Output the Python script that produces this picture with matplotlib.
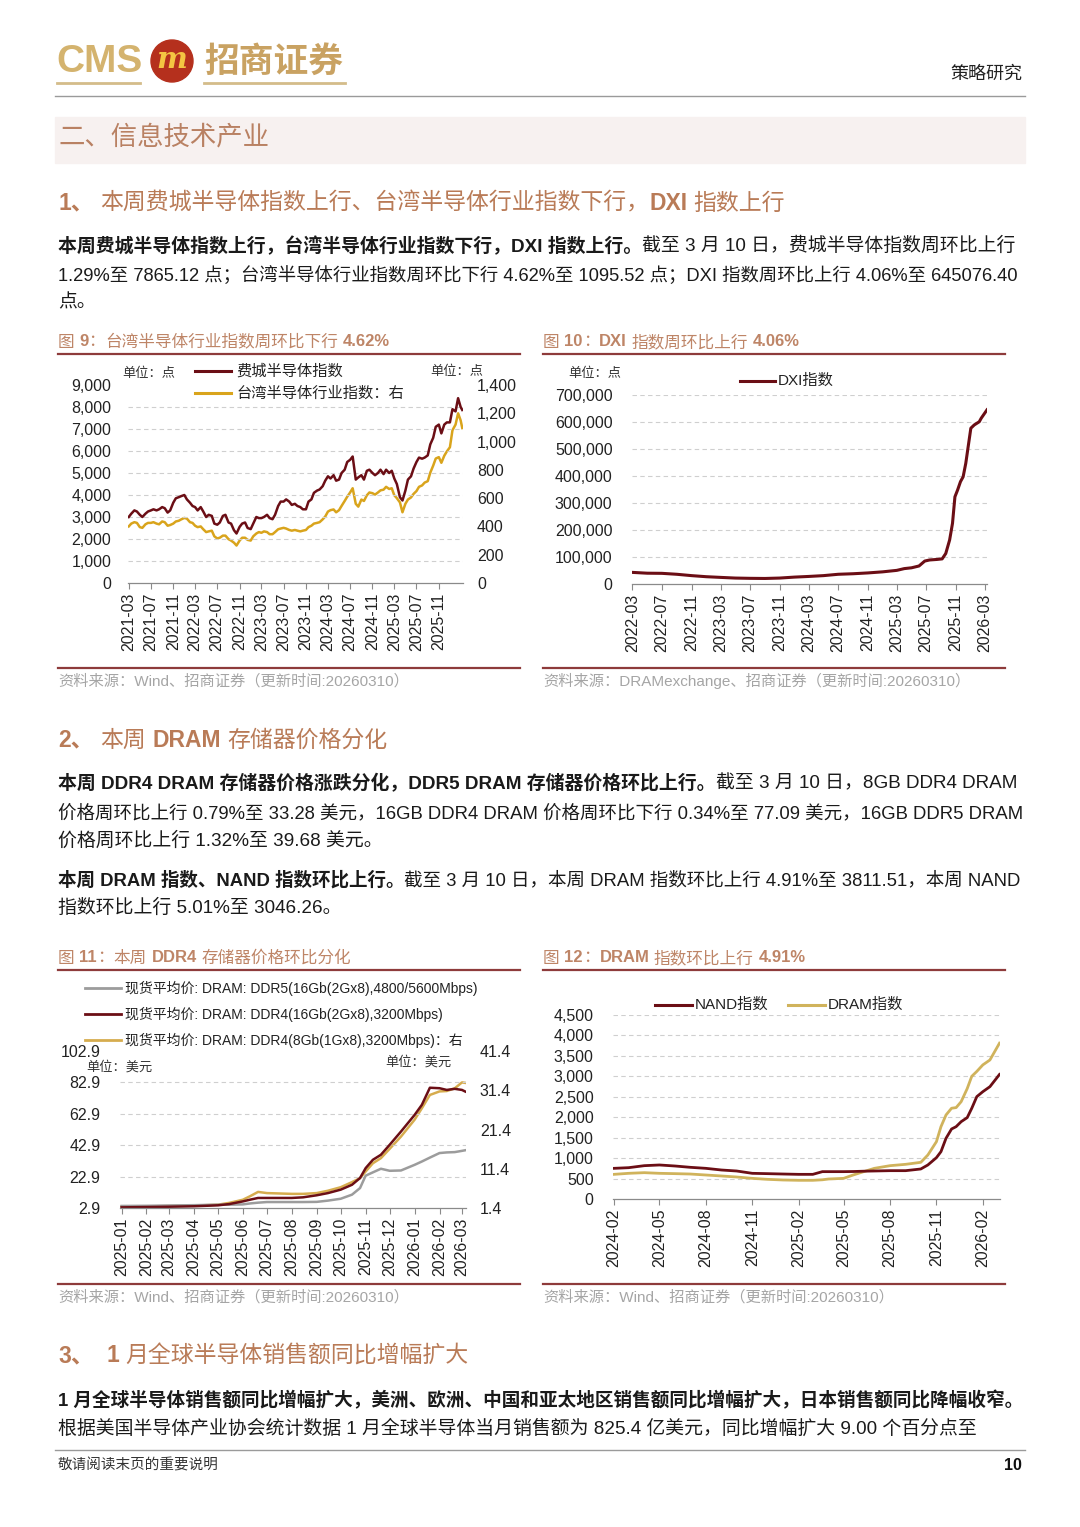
import pandas as pd
import matplotlib
matplotlib.use('Agg')
import matplotlib.pyplot as plt
from matplotlib import font_manager as fm
from matplotlib.patches import Circle, Rectangle
from matplotlib.lines import Line2D
from matplotlib.transforms import IdentityTransform
from matplotlib.ticker import FuncFormatter

W, H = 1080, 1527
names = {f.name for f in fm.fontManager.ttflist}
CJK = 'Noto Sans CJK SC'
LAT = 'Liberation Sans Narrow' if 'Liberation Sans Narrow' in names else 'Liberation Sans'
BODY = [LAT, CJK]
TICK = ['Liberation Sans', CJK]
plt.rcParams['font.family'] = TICK

# ---------------- data ----------------
# 图9: semi-monthly readings 2021-03 .. 2026-03
sox_vals = [
    3000, 3150, 3300, 3250, 3100, 3000, 3150, 3250, 3300, 3350, 3300, 3350,
    3450, 3400, 3200, 3300, 3650, 3850, 3900, 3950, 4000, 3800, 3650, 3500,
    3450, 3300, 3450, 3250, 3000, 3100, 3050, 2700, 2650, 2750, 3050, 3100,
    2750, 2700, 2400, 2250, 2550, 2700, 2750, 2500, 2450, 2700, 3000, 2950,
    2950, 3000, 3100, 2950, 2900, 3100, 3500, 3700, 3700, 3800, 3700, 3550,
    3600, 3500, 3450, 3350, 3350, 3700, 3800, 4100, 4200, 4250, 4400, 4650,
    4850, 4750, 4900, 4650, 4700, 5000, 5150, 5500, 5600, 5750, 4700, 4800,
    4900, 4700, 5100, 5150, 5000, 4900, 5000, 5150, 4950, 5150, 5000, 5100,
    4750, 4500, 3900, 3750, 4200, 4700, 4850, 5200, 5500, 5700, 5650, 5700,
    5800, 6300, 6600, 7100, 7200, 6800, 7200, 7300, 7300, 7900, 7800, 8400,
    8000, 7865.12]
tsi_vals = [
    400, 420, 430, 425, 395, 390, 415, 425, 425, 430, 420, 415,
    435, 430, 405, 410, 420, 435, 440, 450, 460, 455, 430, 425,
    405, 395, 400, 380, 360, 365, 370, 330, 315, 320, 335, 335,
    310, 300, 285, 265, 300, 320, 320, 305, 300, 330, 350, 360,
    355, 365, 360, 345, 345, 360, 380, 385, 390, 385, 375, 370,
    375, 370, 365, 370, 375, 395, 405, 420, 425, 430, 450, 470,
    505, 515, 520, 500, 515, 545, 580, 610, 640, 670, 560, 540,
    590, 580, 620, 640, 635, 625, 640, 655, 660, 680, 665, 670,
    620, 600, 570, 500, 560, 590, 605, 630, 650, 680, 690, 710,
    720, 780, 830, 880, 890, 850, 900, 930, 960, 1080, 1120, 1200,
    1150, 1095.52]
semi_dates = list(pd.date_range('2021-03-01', '2026-03-01', freq='SMS')) + [pd.Timestamp('2026-03-10')]

# 图10
dxi_dates = pd.to_datetime([
    '2022-03-01', '2022-05-01', '2022-07-01', '2022-09-01', '2022-11-01', '2023-01-01',
    '2023-03-01', '2023-05-01', '2023-07-01', '2023-09-01', '2023-11-01', '2024-01-01',
    '2024-03-01', '2024-05-01', '2024-07-01', '2024-09-01', '2024-11-01', '2025-01-01',
    '2025-03-01', '2025-04-01', '2025-05-01', '2025-06-01', '2025-06-25', '2025-07-15',
    '2025-08-15', '2025-09-05', '2025-09-20', '2025-10-06', '2025-10-18', '2025-10-28',
    '2025-11-08', '2025-11-20', '2025-12-01', '2025-12-12', '2025-12-22', '2026-01-02',
    '2026-01-16', '2026-02-06', '2026-02-14', '2026-03-10'])
dxi_vals = [
    43000, 40000, 39500, 36000, 31000, 27000,
    24500, 22000, 21000, 20500, 22000, 25500,
    28000, 31000, 36000, 38000, 41000, 45000,
    50500, 57000, 60000, 66700, 85000, 89000,
    91000, 93000, 113000, 163000, 225000, 323000,
    348000, 379000, 397000, 447000, 509000, 577000,
    589000, 601000, 614000, 645076.40]

# 图11
ddr_dates = pd.to_datetime([
    '2025-01-01', '2025-02-01', '2025-03-01', '2025-04-01', '2025-05-01', '2025-05-15',
    '2025-06-01', '2025-06-10', '2025-06-20', '2025-07-01', '2025-08-01', '2025-08-15',
    '2025-09-01', '2025-09-15', '2025-10-01', '2025-10-15', '2025-10-25', '2025-11-01',
    '2025-11-10', '2025-11-20', '2025-12-01', '2025-12-15', '2026-01-01', '2026-01-10',
    '2026-01-20', '2026-02-01', '2026-02-10', '2026-02-20', '2026-03-01', '2026-03-05'])
ddr5_16g = [4.2, 4.3, 4.5, 4.7, 5.0, 5.0, 5.2, 5.8, 6.3, 6.7, 6.7, 6.7, 6.8, 7.6, 8.8,
            11.4, 15.6, 23.5, 25.6, 27.9, 26.6, 26.8, 30.4, 32.5, 35.0, 37.9, 38.3,
            38.5, 39.3, 39.68]
ddr4_16g = [3.3, 3.5, 3.7, 4.0, 4.6, 5.4, 7.1, 8.2, 9.3, 9.3, 9.3, 9.7, 11.0, 12.4, 14.6,
            17.7, 22.0, 28.3, 33.6, 36.8, 43.2, 51.6, 62.2, 68.6, 79.5, 79.2, 78.1,
            78.8, 78.1, 77.09]
ddr4_8g = [1.8, 1.8, 1.9, 2.0, 2.25, 2.7, 3.5, 4.4, 5.5, 5.2, 5.0, 5.0, 5.2, 5.8, 6.7,
           8.0, 9.0, 10.7, 12.8, 14.1, 16.5, 19.6, 23.9, 26.8, 30.2, 31.1, 31.2,
           31.9, 33.4, 33.28]

# 图12
idx_dates = pd.to_datetime([
    '2024-02-01', '2024-03-01', '2024-04-01', '2024-05-01', '2024-06-01', '2024-07-01',
    '2024-08-01', '2024-09-01', '2024-10-01', '2024-11-01', '2024-12-01', '2025-01-01',
    '2025-02-01', '2025-03-01', '2025-03-20', '2025-04-01', '2025-05-01', '2025-05-20',
    '2025-06-10', '2025-07-01', '2025-08-01', '2025-09-01', '2025-10-01', '2025-10-15',
    '2025-11-01', '2025-11-10', '2025-11-20', '2025-12-01', '2025-12-10', '2025-12-20',
    '2026-01-01', '2026-01-10', '2026-01-20', '2026-02-01', '2026-02-15', '2026-03-06'])
nand_idx = [750, 766, 815, 832, 807, 775, 750, 709, 685, 628, 620, 611,
            603, 603, 669, 669, 669, 672, 680, 685, 693, 693, 734, 832,
            1011, 1158, 1484, 1712, 1769, 1891, 1990, 2218, 2503, 2625, 2747, 3046.26]
dram_idx = [603, 628, 644, 628, 620, 611, 587, 563, 538, 505, 481, 465,
            457, 457, 470, 489, 505, 587, 669, 750, 815, 848, 897, 1076,
            1402, 1769, 2055, 2220, 2235, 2380, 2700, 3000, 3120, 3280, 3400, 3811.51]

MAROON = '#6B0E15'
GOLD9 = '#D9A41C'
GOLD11 = '#D6AC4E'
GOLD12 = '#D0B35C'
GRAY11 = '#9C9C9C'
TITLE_C = '#BE8567'
HEAD_C = '#B97B57'
RULE_C = '#8E3B3B'
GRID_C = '#CFCFCF'

fig = plt.figure(figsize=(W / 100, H / 100), dpi=100)
fig.patch.set_facecolor('white')
R = fig.canvas.get_renderer()


def put(x, y, s, size, color='#1a1a1a', weight='normal', ha='left', va='center', family=None, **kw):
    return fig.text(x / W, 1 - y / H, s, fontsize=size, color=color, fontweight=weight,
                    ha=ha, va=va, family=family or BODY, **kw)


def _draw(x, y, parts, size, color, family):
    sp = size * 0.28 * 100 / 72
    made = []
    for s, b in parts:
        lead = len(s) - len(s.lstrip(' '))
        trail = len(s) - len(s.rstrip(' '))
        x += lead * sp
        core = s.strip(' ')
        if core:
            t = put(x, y, core, size, color=color, weight='bold' if b else 'normal', family=family)
            made.append(t)
            x += t.get_window_extent(renderer=R).width
        x += trail * sp
    return x, made


def rich(x, y, parts, size, color='#1a1a1a', family=None, maxw=None):
    end, made = _draw(x, y, parts, size, color, family)
    if maxw and end - x > maxw:
        for t in made:
            t.remove()
        end, made = _draw(x, y, parts, size * maxw / (end - x), color, family)
    return end


def hline(x0, x1, y, color, lw):
    fig.add_artist(Line2D([x0 / W, x1 / W], [1 - y / H, 1 - y / H], color=color, lw=lw,
                          transform=fig.transFigure))


def make_ax(left, right, top, bottom):
    ax = fig.add_axes([left / W, 1 - bottom / H, (right - left) / W, (bottom - top) / H])
    for k, s in ax.spines.items():
        s.set_visible(k == 'bottom')
    ax.spines['bottom'].set_color('#8a8a8a')
    ax.spines['bottom'].set_linewidth(0.9)
    ax.set_facecolor('none')
    return ax


def style(ax, ylim, yticks, fmt, grid, xlim, xticks, ypad=14):
    ax.set_ylim(*ylim)
    ax.set_yticks(yticks)
    ax.yaxis.set_major_formatter(FuncFormatter(fmt))
    ax.tick_params(axis='y', length=0, pad=ypad, labelsize=11.5, labelcolor='#222222')
    for g in grid:
        ax.axhline(g, color=GRID_C, lw=0.8, ls=(0, (4, 3)), zorder=0)
    ax.set_xlim(*xlim)
    ax.set_xticks(xticks)
    ax.set_xticklabels([d.strftime('%Y-%m') for d in xticks])
    ax.tick_params(axis='x', length=4, width=0.8, color='#8a8a8a', pad=3, labelrotation=90,
                   labelsize=11.5, labelcolor='#222222')


def twin(ax, ylim, yticks, fmt, ypad):
    axr = ax.twinx()
    for s in axr.spines.values():
        s.set_visible(False)
    axr.set_ylim(*ylim)
    axr.set_yticks(yticks)
    axr.yaxis.set_major_formatter(FuncFormatter(fmt))
    axr.tick_params(axis='y', length=0, pad=ypad, labelsize=11.5, labelcolor='#222222')
    return axr


comma = lambda v, p: f'{v:,.0f}'
one = lambda v, p: f'{v:.1f}'

# ---------------- page header ----------------
put(56, 62, 'CMS', 28, color='#D4B36E', weight='bold', family=['Liberation Sans'])
fig.add_artist(Circle((172, H - 61), 21, color='#B5301D', transform=IdentityTransform()))
put(172, 60, 'm', 21, color='#F4C542', weight='bold', ha='center', family=['DejaVu Serif'],
    style='italic')
put(204, 61, '招商证券', 25, color='#C9A262', weight='bold', family=[CJK])
hline(57, 140, 83, '#D4BC8A', 2)
hline(204, 345, 83, '#D4BC8A', 2)
hline(55, 1025, 96, '#9a9a9a', 1)
put(1022, 74, '策略研究', 13, color='#222222', ha='right', family=[CJK])

fig.add_artist(Rectangle((55 / W, 1 - 163 / H), 970 / W, 46 / H, color='#F7F1F0',
                         transform=fig.transFigure, zorder=0))
put(58, 137, '二、信息技术产业', 19, color='#B98163', family=[CJK])

rich(58, 203, [('1、', True), (' 本周费城半导体指数上行、台湾半导体行业指数下行，', False),
               ('DXI', True), (' 指数上行', False)], 16.5, color=HEAD_C)

BS = 13.6
FULL = 964
rich(58, 246, [('本周费城半导体指数上行，台湾半导体行业指数下行，DXI 指数上行。', True),
               ('截至 3 月 10 日，费城半导体指数周环比上行', False)], BS, maxw=FULL)
rich(58, 275, [('1.29%至 7865.12 点；台湾半导体行业指数周环比下行 4.62%至 1095.52 点；DXI 指数周环比上行 4.06%至 645076.40', False)],
     BS, maxw=FULL)
rich(58, 303, [('点。', False)], BS)


# figure titles / rules / sources
def fig_frame(x0, x1, y_title, y_rule, y_src_rule, y_src, parts, src):
    rich(x0, y_title, parts, 12, color=TITLE_C)
    hline(x0, x1, y_rule, RULE_C, 1.6)
    hline(x0, x1, y_src_rule, RULE_C, 1.6)
    put(x0, y_src, src, 11, color='#A5A5A5', family=['Liberation Sans', CJK])


fig_frame(58, 520, 342, 354, 668, 681,
          [('图 ', False), ('9', True), ('：', False), ('台湾半导体行业指数周环比下行 ', False), ('4.62%', True)],
          '资料来源：Wind、招商证券（更新时间:20260310）')
fig_frame(543, 1005, 342, 354, 668, 681,
          [('图 ', False), ('10', True), ('：', False), ('DXI', True), (' 指数周环比上行 ', False), ('4.06%', True)],
          '资料来源：DRAMexchange、招商证券（更新时间:20260310）')

# ---------------- 图9 ----------------
ax9 = make_ax(128, 463, 385, 583)
ax9r = twin(ax9, (0, 1400), range(0, 1401, 200), comma, 10)
ax9r.plot(semi_dates, tsi_vals, color=GOLD9, lw=1.8)
ax9.plot(semi_dates, sox_vals, color=MAROON, lw=1.8, zorder=3)
ax9.set_zorder(ax9r.get_zorder() + 1)
style(ax9, (0, 9000), range(0, 9001, 1000), comma, range(1000, 8001, 1000),
      (pd.Timestamp('2021-02-25'), pd.Timestamp('2026-03-14')),
      list(pd.date_range('2021-03-01', '2025-11-01', freq='4MS')), ypad=12)
put(122, 374, '单位：点', 9.5, color='#333333', family=[CJK])
put(430, 371, '单位：点', 9.5, color='#333333', family=[CJK])
hline(195, 231, 371, MAROON, 2.2)
put(236, 371, '费城半导体指数', 11, color='#222222', family=[CJK])
hline(195, 231, 393, GOLD9, 2.2)
put(236, 393, '台湾半导体行业指数：右', 11, color='#222222', family=[CJK])

# ---------------- 图10 ----------------
ax10 = make_ax(632, 987, 395, 584)
ax10.plot(dxi_dates, dxi_vals, color=MAROON, lw=2.2)
style(ax10, (0, 700000), range(0, 700001, 100000), comma, range(100000, 700001, 100000),
      (pd.Timestamp('2022-02-27'), pd.Timestamp('2026-03-10')),
      list(pd.date_range('2022-03-01', '2026-03-01', freq='4MS')), ypad=14)
put(568, 374, '单位：点', 9.5, color='#333333', family=[CJK])
hline(740, 775, 381, MAROON, 2.2)
put(778, 381, 'DXI指数', 11, color='#222222', family=['Liberation Sans', CJK])

# ---------------- section 2 ----------------
rich(58, 740, [('2、', True), (' 本周 ', False), ('DRAM', True), (' 存储器价格分化', False)],
     16.5, color=HEAD_C)
rich(58, 784, [('本周 DDR4 DRAM 存储器价格涨跌分化，DDR5 DRAM 存储器价格环比上行。', True),
               ('截至 3 月 10 日，8GB DDR4 DRAM', False)], BS, maxw=FULL)
rich(58, 813, [('价格周环比上行 0.79%至 33.28 美元，16GB DDR4 DRAM 价格周环比下行 0.34%至 77.09 美元，16GB DDR5 DRAM', False)],
     BS, maxw=FULL)
rich(58, 841, [('价格周环比上行 1.32%至 39.68 美元。', False)], BS)
rich(58, 880, [('本周 DRAM 指数、NAND 指数环比上行。', True),
               ('截至 3 月 10 日，本周 DRAM 指数环比上行 4.91%至 3811.51，本周 NAND', False)], BS, maxw=FULL)
rich(58, 908, [('指数环比上行 5.01%至 3046.26。', False)], BS)

fig_frame(58, 520, 958, 970, 1284, 1297,
          [('图 ', False), ('11', True), ('：', False), ('本周 ', False), ('DDR4', True), (' 存储器价格环比分化', False)],
          '资料来源：Wind、招商证券（更新时间:20260310）')
fig_frame(543, 1005, 958, 970, 1284, 1297,
          [('图 ', False), ('12', True), ('：', False), ('DRAM', True), (' 指数环比上行 ', False), ('4.91%', True)],
          '资料来源：Wind、招商证券（更新时间:20260310）')

# ---------------- 图11 ----------------
ax11 = make_ax(120, 466, 1051, 1208)
ax11r = twin(ax11, (1.4, 41.4), [1.4, 11.4, 21.4, 31.4, 41.4], one, 10)
ax11r.plot(ddr_dates, ddr4_8g, color=GOLD11, lw=1.8)
ax11.plot(ddr_dates, ddr5_16g, color=GRAY11, lw=1.8)
ax11.plot(ddr_dates, ddr4_16g, color=MAROON, lw=1.8)
ax11.set_zorder(ax11r.get_zorder() + 1)
style(ax11, (2.9, 102.9), [2.9, 22.9, 42.9, 62.9, 82.9, 102.9], one, [22.9, 42.9, 62.9, 82.9],
      (pd.Timestamp('2024-12-30'), pd.Timestamp('2026-03-06')),
      list(pd.date_range('2025-01-01', '2026-03-01', freq='MS')), ypad=14)
leg11 = [('现货平均价: DRAM: DDR5(16Gb(2Gx8),4800/5600Mbps)', GRAY11, 988),
         ('现货平均价: DRAM: DDR4(16Gb(2Gx8),3200Mbps)', MAROON, 1014),
         ('现货平均价: DRAM: DDR4(8Gb(1Gx8),3200Mbps)：右', GOLD11, 1040)]
for lab, c, yy in leg11:
    hline(85, 121, yy, c, 2)
    put(125, yy, lab, 10, color='#222222', family=['Liberation Sans', CJK])
put(86, 1067, '单位：美元', 9.5, color='#333333', family=[CJK])
put(385, 1062, '单位：美元', 9.5, color='#333333', family=[CJK])

# ---------------- 图12 ----------------
ax12 = make_ax(613, 1000, 1015, 1199)
ax12.plot(idx_dates, dram_idx, color=GOLD12, lw=2)
ax12.plot(idx_dates, nand_idx, color=MAROON, lw=2)
style(ax12, (0, 4500), range(0, 4501, 500), comma, range(500, 4501, 500),
      (pd.Timestamp('2024-01-30'), pd.Timestamp('2026-03-07')),
      list(pd.date_range('2024-02-01', '2026-02-01', freq='3MS')), ypad=14)
hline(655, 692, 1005, MAROON, 2.2)
put(695, 1005, 'NAND指数', 11, color='#222222', family=['Liberation Sans', CJK])
hline(788, 825, 1005, GOLD12, 2.2)
put(828, 1005, 'DRAM指数', 11, color='#222222', family=['Liberation Sans', CJK])

# ---------------- section 3 + footer ----------------
rich(58, 1356, [('3、', True), (' ', False), ('1', True), (' 月全球半导体销售额同比增幅扩大', False)],
     16.5, color=HEAD_C)
rich(58, 1401, [('1 月全球半导体销售额同比增幅扩大，美洲、欧洲、中国和亚太地区销售额同比增幅扩大，日本销售额同比降幅收窄。', True)],
     BS, maxw=FULL)
rich(58, 1429, [('根据美国半导体产业协会统计数据 1 月全球半导体当月销售额为 825.4 亿美元，同比增幅扩大 9.00 个百分点至', False)],
     BS, maxw=FULL)
hline(55, 1025, 1450, '#9a9a9a', 1)
put(58, 1465, '敬请阅读末页的重要说明', 10.5, color='#333333', family=[CJK])
put(1022, 1465, '10', 11.5, color='#111111', weight='bold', ha='right', family=['Liberation Sans'])

fig.savefig('out.png', dpi=100, facecolor='white')
